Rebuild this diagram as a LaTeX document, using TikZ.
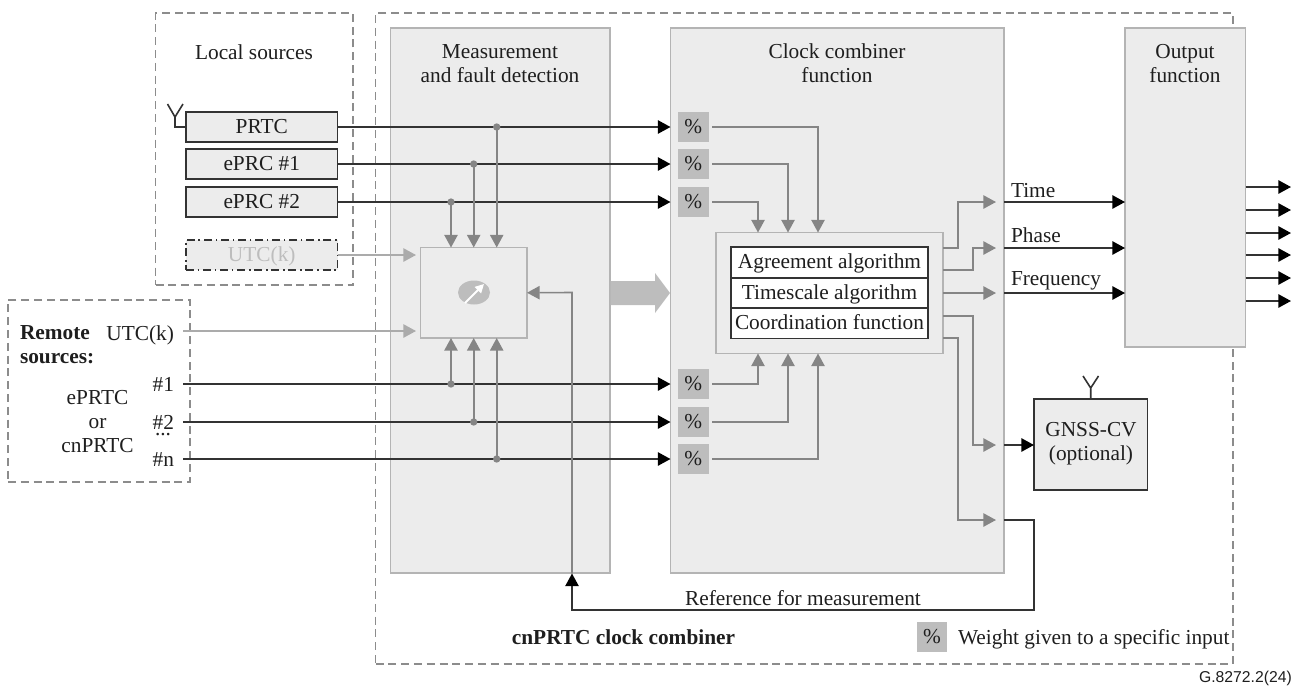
\documentclass[tikz,border=0pt]{standalone}
\usepackage{fontspec}
\setmainfont{Liberation Serif}
\newfontfamily\arialfont{Liberation Sans}
\usetikzlibrary{arrows.meta,calc,shapes.geometric}
\definecolor{panel}{HTML}{ECECEC}
\definecolor{panelline}{HTML}{B4B4B4}
\definecolor{dashgray}{HTML}{8C8C8C}
\definecolor{midgray}{HTML}{858585}
\definecolor{lightline}{HTML}{ABABAB}
\definecolor{pctfill}{HTML}{BDBDBD}
\definecolor{ink}{HTML}{1E1E1E}
\definecolor{wire}{HTML}{333333}
\newcommand{\rectnode}[7][]{%
  \pgfmathsetmacro{\rcx}{(#3+#5)/2}\pgfmathsetmacro{\rcy}{(#4+#6)/2}%
  \pgfmathsetmacro{\rw}{(#5-#3)*0.75}\pgfmathsetmacro{\rh}{(#6-#4)*0.75}%
  \node[#1,minimum width=\rw pt,minimum height=\rh pt] (#2) at (\rcx,\rcy) {#7};}
\tikzset{
  rectbase/.style={rectangle,inner sep=0pt,outer sep=0pt,align=center},
  dashframe/.style={rectbase,draw=dashgray,line width=1pt,dash pattern=on 6pt off 3.6pt},
  panelbox/.style={rectbase,draw=panelline,fill=panel,line width=1.1pt},
  srcbox/.style={rectbase,draw=wire,fill=panel,line width=1.2pt,stxt},
  whitebox/.style={rectbase,draw=wire,fill=white,line width=1.2pt,stxt},
  pct/.style={rectbase,fill=pctfill,stxt},
  stxt/.style={text=ink,text height=11.5pt,text depth=2pt},
  lbl/.style={inner sep=0pt,outer sep=0pt,text=ink,stxt},
  ttl/.style={inner sep=0pt,outer sep=0pt,text=ink,align=center},
  wirearrow/.style={draw=wire,line width=1.3pt,-{Triangle[length=9.5pt,width=10pt,color=black]}},
  plainwire/.style={draw=wire,line width=1.2pt},
  grayarrow/.style={draw=midgray,line width=1.2pt,-{Triangle[length=9.5pt,width=10pt,color=midgray]}},
  lightarrow/.style={draw=lightline,line width=1.2pt,-{Triangle[length=9.5pt,width=10pt,color=lightline]}},
  dotnode/.style={circle,fill=midgray,inner sep=0pt,minimum size=5.5pt},
}
\begin{document}
\begin{tikzpicture}[x=0.75pt,y=-0.75pt,every node/.append style={font=\fontsize{16}{18}\selectfont}]
\useasboundingbox (0,0) rectangle (1306,686);
% frames
\rectnode[dashframe]{outer}{375.5}{13}{1233}{664}{}
\rectnode[dashframe]{localf}{155.5}{13}{353}{285}{}
\rectnode[dashframe]{remotef}{8}{300}{190}{482}{}
% panels
\rectnode[panelbox]{meas}{390.5}{28}{610}{573}{}
\rectnode[panelbox]{comb}{670.5}{28}{1004}{573}{}
\rectnode[panelbox]{outp}{1125}{28}{1245.5}{347}{}
% titles
\node[ttl] (tlocal) at (254,52) {Local sources};
\node[ttl] (tmeas) at (500,64) {Measurement\\and fault detection};
\node[ttl] (tcomb) at (837,63.5) {Clock combiner\\function};
\node[ttl] (toutp) at (1185,64) {Output\\function};
% sources
\rectnode[srcbox]{prtc}{186}{112}{337.5}{142}{PRTC}
\rectnode[srcbox]{eprc1}{186}{149}{337.5}{179}{ePRC \#1}
\rectnode[srcbox]{eprc2}{186}{187}{337.5}{217}{ePRC \#2}
\rectnode[rectbase,draw=wire,fill=panel,line width=0.8pt,dash pattern=on 6pt off 2.8pt on 1.2pt off 2.8pt,stxt,text=pctfill]{utcl}{186}{240}{337.5}{270}{UTC(k)}
% PRTC antenna
\coordinate (antb) at (175,127);
\coordinate (antm) at (175,117);
\coordinate (antl) at (167.5,104);
\coordinate (antr) at (183,104);
\draw[plainwire] (prtc.west) -- (antb) -- (antm) (antl) -- (antm) -- (antr);
% remote text
\node[ttl,anchor=west,font=\fontsize{16}{18}\bfseries\selectfont,align=left] (trem) at (20,345) {Remote\\sources:};
\node[lbl,anchor=east] (rutc) at (174,334.5) {UTC(k)};
\node[lbl,anchor=east] (r1) at (174,385) {\#1};
\node[lbl,anchor=east] (r2) at (174,423) {\#2};
\node[lbl,anchor=east] (rn) at (174,460.5) {\#n};
\node[inner sep=0pt,outer sep=0pt,text=ink] (rdots) at (163,435) {...};
\node[ttl] (reprtc) at (97.5,421.5) {ePRTC\\or\\cnPRTC};
\coordinate (rutcs) at (183,331);
\coordinate (r1s) at (183,384);
\coordinate (r2s) at (183,422);
\coordinate (rns) at (183,459);
% measuring block
\rectnode[rectbase,draw=panelline,line width=1.1pt,fill=panel]{mblock}{420.5}{247.5}{527}{338}{}
\node[ellipse,fill=pctfill,minimum width=24pt,minimum height=18pt,inner sep=0pt] (dial) at (474,292.5) {};
\coordinate (dials) at (465,303);
\coordinate (diale) at (484,284);
\draw[draw=white,line width=1.4pt,-{Triangle[length=6.5pt,width=6.5pt,color=white]}] (dials) -- (diale);
% big arrow
\coordinate (bigs) at (610.5,293);
\coordinate (bige) at (670,293);
\fill[pctfill] (610.5,281) -- (655,281) -- (655,273) -- (bige) -- (655,313) -- (655,305) -- (610.5,305) -- cycle;
% percent boxes
\rectnode[pct]{p1}{678}{112}{708.5}{142}{\%}
\rectnode[pct]{p2}{678}{149}{708.5}{179}{\%}
\rectnode[pct]{p3}{678}{187}{708.5}{217}{\%}
\rectnode[pct]{p4}{678}{369}{708.5}{399}{\%}
\rectnode[pct]{p5}{678}{407}{708.5}{437}{\%}
\rectnode[pct]{p6}{678}{444}{708.5}{474}{\%}
\foreach \i/\yy in {1/127,2/164,3/202,4/384,5/422,6/459}{
  \coordinate (pin\i) at (670.5,\yy);
  \coordinate (pout\i) at (712,\yy);
}
% inner block
\rectnode[rectbase,draw=panelline,line width=1.1pt,fill=panel]{alg}{716}{232.5}{943}{353.5}{}
\rectnode[whitebox]{a1}{731}{247}{928}{278}{Agreement algorithm}
\rectnode[whitebox]{a2}{731}{278}{928}{308}{Timescale algorithm}
\rectnode[whitebox]{a3}{731}{308}{928}{338.5}{Coordination function}
% main input wires
\draw[wirearrow] (prtc.east) -- (pin1);
\draw[wirearrow] (eprc1.east) -- (pin2);
\draw[wirearrow] (eprc2.east) -- (pin3);
\draw[wirearrow] (r1s) -- (pin4);
\draw[wirearrow] (r2s) -- (pin5);
\draw[wirearrow] (rns) -- (pin6);
\draw[lightarrow] (utcl.east) -- (416,255) coordinate (utcle);
\draw[lightarrow] (rutcs) -- (416,331) coordinate (rutce);
% tap dots
\node[dotnode] (d1) at (496.7,127) {};
\node[dotnode] (d2) at (473.7,164) {};
\node[dotnode] (d3) at (451,202) {};
\node[dotnode] (d4) at (451,384) {};
\node[dotnode] (d5) at (473.7,422) {};
\node[dotnode] (d6) at (496.7,459) {};
\draw[grayarrow] (d1.center) -- (d1.center |- mblock.north);
\draw[grayarrow] (d2.center) -- (d2.center |- mblock.north);
\draw[grayarrow] (d3.center) -- (d3.center |- mblock.north);
\draw[grayarrow] (d4.center) -- (d4.center |- mblock.south);
\draw[grayarrow] (d5.center) -- (d5.center |- mblock.south);
\draw[grayarrow] (d6.center) -- (d6.center |- mblock.south);
% percent to algorithm
\coordinate (tx1) at (818,232.5);
\coordinate (tx2) at (788,232.5);
\coordinate (tx3) at (758,232.5);
\coordinate (bx1) at (758,353.5);
\coordinate (bx2) at (788,353.5);
\coordinate (bx3) at (818,353.5);
\draw[grayarrow] (pout1) -| (tx1);
\draw[grayarrow] (pout2) -| (tx2);
\draw[grayarrow] (pout3) -| (tx3);
\draw[grayarrow] (pout4) -| (bx1);
\draw[grayarrow] (pout5) -| (bx2);
\draw[grayarrow] (pout6) -| (bx3);
% algorithm outputs
\coordinate (o1s) at (943,248);
\coordinate (o2s) at (943,270);
\coordinate (o3s) at (943,293);
\coordinate (o4s) at (943,316);
\coordinate (o5s) at (943,338);
\coordinate (o1e) at (996,202);
\coordinate (o2e) at (996,248);
\coordinate (o3e) at (996,293);
\coordinate (o4e) at (996,445);
\coordinate (o5e) at (996,520);
\draw[grayarrow] (o1s) -- (958,248) -- (958,202) -- (o1e);
\draw[grayarrow] (o2s) -- (973,270) -- (973,248) -- (o2e);
\draw[grayarrow] (o3s) -- (o3e);
\draw[grayarrow] (o4s) -- (973,316) -- (973,445) -- (o4e);
\draw[grayarrow] (o5s) -- (958,338) -- (958,520) -- (o5e);
% outputs to output function
\coordinate (ot) at (1004,202);
\coordinate (op) at (1004,248);
\coordinate (of) at (1004,293);
\draw[wirearrow] (ot) -- (ot -| outp.west);
\draw[wirearrow] (op) -- (op -| outp.west);
\draw[wirearrow] (of) -- (of -| outp.west);
\node[lbl,anchor=west] (ltime) at (1011,191) {Time};
\node[lbl,anchor=west] (lphase) at (1011,236) {Phase};
\node[lbl,anchor=west] (lfreq) at (1011,279.5) {Frequency};
\foreach \i/\yy in {1/187,2/210,3/233,4/255,5/278,6/301}{
  \coordinate (ou\i) at (1245.5,\yy);
  \coordinate (ov\i) at (1291,\yy);
  \draw[wirearrow] (ou\i) -- (ov\i);
}
% GNSS-CV
\rectnode[rectbase,draw=wire,fill=panel,line width=1.2pt]{gnss}{1034}{399}{1147.5}{490}{}
\node[ttl] (tgnss) at (1091,444) {GNSS-CV\\(optional)};
\coordinate (gin) at (1004,445);
\draw[wirearrow] (gin) -- (gin -| gnss.west);
\coordinate (gant) at (1090.7,399);
\coordinate (gantm) at (1090.7,388);
\coordinate (gantl) at (1083,376);
\coordinate (gantr) at (1098.5,376);
\draw[plainwire] (gant) -- (gantm) (gantl) -- (gantm) -- (gantr);
% reference for measurement
\coordinate (refs) at (1004,520);
\coordinate (refc) at (1034,520);
\coordinate (refd) at (1034,610);
\coordinate (refu) at (572,610);
\coordinate (refp) at (572,573.5);
\coordinate (refm) at (572,292.5);
\draw[wirearrow] (refs) -- (refc) -- (refd) -- (refu) -- (refp);
\draw[grayarrow] (refp) -- (refm) -- (mblock.east);
\node[lbl] (lref) at (803,599) {Reference for measurement};
\node[lbl,font=\fontsize{16}{18}\bfseries\selectfont] (lcn) at (623.5,638.5) {cnPRTC clock combiner};
% legend
\rectnode[pct]{pleg}{917}{622}{947}{652}{\%}
\node[lbl,anchor=west] (lleg) at (958,638.5) {Weight given to a specific input};
\node[inner sep=0pt,anchor=east,text=ink,font=\arialfont\fontsize{11.8}{13}\selectfont] (lcode) at (1292,678) {G.8272.2(24)};
\end{tikzpicture}
\end{document}
